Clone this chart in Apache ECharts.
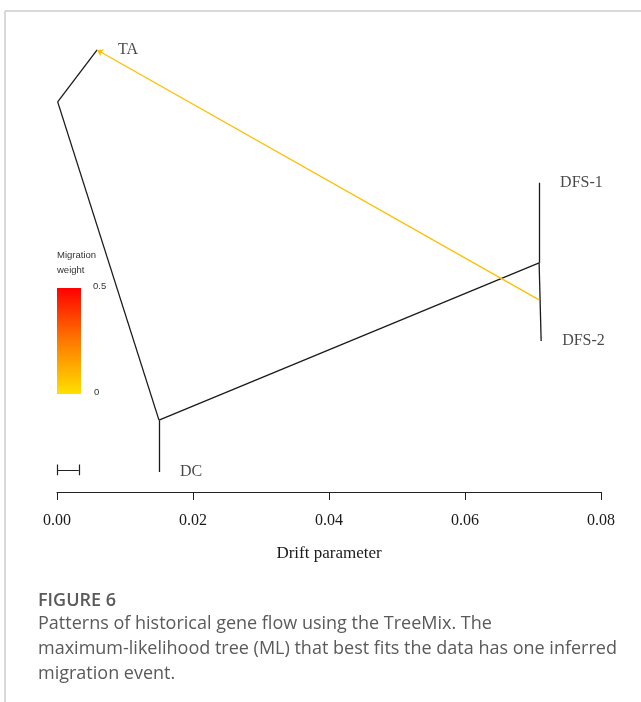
<!DOCTYPE html>
<html><head><meta charset="utf-8">
<script src="https://cdn.jsdelivr.net/npm/echarts@6/dist/echarts.min.js"></script>
<style>html,body{margin:0;padding:0;background:#fff}#c{width:641px;height:702px}</style>
</head><body><div id="c"></div>
<script>
// Tree nodes: [drift (x), vertical position (y, arbitrary 0..1)]
var nodeRoot = [0.0001, 0.863];
var nodeTA = [0.0059, 0.978];
var nodeDCInner = [0.0150, 0.159];
var nodeDC = [0.0150, 0.044];
var nodeDFSInner = [0.0709, 0.507];
var nodeDFS1 = [0.0709, 0.684];
var nodeDFS2 = [0.0712, 0.334];
// Migration event: source point on DFS-2 branch -> TA, weight
var migrationFrom = [0.0709, 0.425];
var migrationTo = nodeTA;
var migrationWeight = 0.03;
// Tip labels
var tipNames = ['TA', 'DFS-1', 'DFS-2', 'DC'];
var tipNodes = [nodeTA, nodeDFS1, nodeDFS2, nodeDC];
// Scale bar (drift units)
var scaleBar = [0, 0.0032];
var scaleBarY = 0.049;
// Axis
var xTicks = [0, 0.02, 0.04, 0.06, 0.08];
var legendTicks = ['0.5', '0'];

var edges = [
  [nodeRoot, nodeTA],
  [nodeRoot, nodeDCInner],
  [nodeDCInner, nodeDC],
  [nodeDCInner, nodeDFSInner],
  [nodeDFSInner, nodeDFS1],
  [nodeDFSInner, nodeDFS2]
];

var serif = '"Liberation Serif", "DejaVu Serif", serif';
var sans9 = '9.5px "Liberation Sans", Arial, sans-serif';
var chart = echarts.init(document.getElementById('c'));
chart.setOption({
  animation: false,
  backgroundColor: '#fff',
  grid: {left: 57, right: 40, top: 40, bottom: 210, containLabel: false},
  xAxis: {
    type: 'value', min: xTicks[0], max: xTicks[xTicks.length - 1], interval: 0.02,
    splitLine: {show: false},
    axisLine: {show: true, onZero: false, lineStyle: {color: '#222', width: 1}},
    axisTick: {show: true, length: 8, lineStyle: {color: '#222', width: 1}},
    axisLabel: {margin: 21, fontFamily: serif, fontSize: 16, color: '#1a1a1a',
      formatter: function (v) { return v.toFixed(2); }},
    name: 'Drift parameter', nameLocation: 'middle', nameGap: 53,
    nameTextStyle: {fontFamily: serif, fontSize: 17, color: '#1a1a1a'}
  },
  yAxis: {type: 'value', min: 0, max: 1, show: false},
  series: [
    {
      type: 'lines', coordinateSystem: 'cartesian2d', z: 2,
      lineStyle: {color: '#1a1a1a', width: 1.3, opacity: 1},
      data: edges.map(function (e) { return {coords: e}; })
    },
    {
      type: 'lines', coordinateSystem: 'cartesian2d', z: 3,
      symbol: ['none', 'arrow'], symbolSize: 6,
      lineStyle: {color: '#FFBF00', width: 1.3, opacity: 1},
      data: [{coords: [migrationFrom, migrationTo], value: migrationWeight}]
    },
    {
      type: 'lines', coordinateSystem: 'cartesian2d', z: 2,
      lineStyle: {color: '#222', width: 1.2, opacity: 1},
      data: [
        {coords: [[scaleBar[0], scaleBarY], [scaleBar[1], scaleBarY]]},
        {coords: [[scaleBar[0], scaleBarY - 0.012], [scaleBar[0], scaleBarY + 0.012]]},
        {coords: [[scaleBar[1], scaleBarY - 0.012], [scaleBar[1], scaleBarY + 0.012]]}
      ]
    },
    {
      type: 'scatter', symbolSize: 0, z: 4,
      data: tipNames.map(function (n, i) { return {name: n, value: tipNodes[i]}; }),
      label: {show: true, position: 'right', distance: 21, formatter: '{b}',
        fontFamily: serif, fontSize: 16, color: '#1a1a1a'}
    }
  ],
  graphic: [
    {type: 'line', shape: {x1: 5, y1: 11, x2: 641, y2: 11}, style: {stroke: '#cccccc', lineWidth: 1.5}},
    {type: 'line', shape: {x1: 5, y1: 11, x2: 5, y2: 702}, style: {stroke: '#cccccc', lineWidth: 1.5}},
    {type: 'text', left: 57, top: 250, style: {text: 'Migration', font: sans9, fill: '#333'}},
    {type: 'text', left: 57, top: 265, style: {text: 'weight', font: sans9, fill: '#333'}},
    {type: 'rect', shape: {x: 57, y: 288, width: 24, height: 106},
      style: {fill: new echarts.graphic.LinearGradient(0, 0, 0, 1, [
        {offset: 0, color: '#FF0000'}, {offset: 0.5, color: '#FF7A00'}, {offset: 1, color: '#FFE000'}])}},
    {type: 'text', left: 93, top: 281, style: {text: legendTicks[0], font: sans9, fill: '#333'}},
    {type: 'text', left: 94, top: 387, style: {text: legendTicks[1], font: sans9, fill: '#333'}},
    {type: 'text', left: 38, top: 588, style: {text: 'FIGURE 6', font: '600 18px "Open Sans", sans-serif', fill: '#5a5a5a', lineHeight: 25}},
    {type: 'text', left: 38, top: 611, style: {text: 'Patterns of historical gene flow using the TreeMix. The\nmaximum-likelihood tree (ML) that best fits the data has one inferred\nmigration event.', font: '18px "Open Sans", sans-serif', fill: '#5a5a5a', lineHeight: 25}}
  ]
});
</script></body></html>
